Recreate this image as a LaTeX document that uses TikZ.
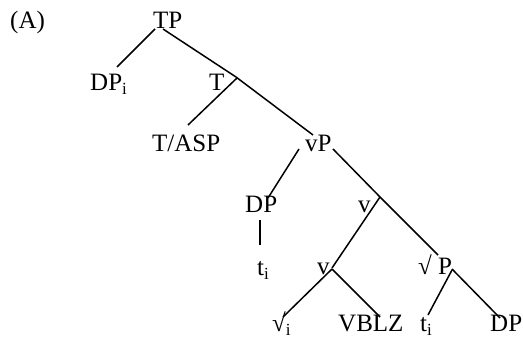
\documentclass[tikz,border=0pt]{standalone}
\usepackage{fontspec}
\setmainfont{Liberation Serif}
\newcommand\mysubi{\raisebox{-3.5pt}{\fontsize{17}{17}\selectfont i}}
\begin{document}
\begin{tikzpicture}[x=1pt,y=-1pt,
  lab/.style={font=\fontsize{25}{30}\selectfont, inner sep=0pt, anchor=base west},
  br/.style={line width=1.5pt}]
\useasboundingbox (0,0) rectangle (523,339);
\node[lab] (A) at (10,29) {(A)};
\node[lab] (TP) at (153,29) {TP};
\node[lab] (DPi) at (90,91) {DP\mysubi};
\node[lab] (T) at (209,91) {T};
\node[lab] (TASP) at (152,152) {T/ASP};
\node[lab] (vP) at (305,152) {vP};
\node[lab] (DP) at (245,213) {DP};
\node[lab] (ti1) at (257,276) {t\mysubi};
\node[lab] (vbar) at (358,213) {v};
\node[lab] (v) at (317,275) {v};
\node[lab] (rootP) at (418,275) {√ P};
\node[lab] (root) at (272,332) {√\mysubi};
\node[lab] (VBLZ) at (338,332) {VBLZ};
\node[lab] (ti2) at (420,332) {t\mysubi};
\node[lab] (DP2) at (490,332) {DP};

\draw[br] ([shift={(2,0)}]TP.base west) -- ([shift={(27,-24)}]DPi.base west);
\draw[br] ([shift={(10,0)}]TP.base west) -- ([shift={(27,-14)}]T.base west);
\draw[br] ([shift={(27,-14)}]T.base west) -- ([shift={(8,-17)}]vP.base west);
\draw[br] ([shift={(28,-13)}]T.base west) -- ([shift={(36,-27)}]TASP.base west);
\draw[br] ([shift={(-6,-3)}]vP.base west) -- ([shift={(23,-15)}]DP.base west);
\draw[br] ([shift={(28,-3)}]vP.base west) -- ([shift={(22,-16)}]vbar.base west);
\draw[br] ([shift={(22,-16)}]vbar.base west) -- ([shift={(20,-20)}]rootP.base west);
\draw[br] ([shift={(22,-16)}]vbar.base west) -- ([shift={(15,-7)}]v.base west);
\draw[br] ([shift={(15,7)}]DP.base west) -- ([shift={(3,-31)}]ti1.base west);
\draw[br] ([shift={(15,-6)}]v.base west) -- ([shift={(11,-15)}]root.base west);
\draw[br] ([shift={(15,-6)}]v.base west) -- ([shift={(42,-15)}]VBLZ.base west);
\draw[br] ([shift={(34,-5)}]rootP.base west) -- ([shift={(8,-17)}]ti2.base west);
\draw[br] ([shift={(34,-6)}]rootP.base west) -- ([shift={(10,-14)}]DP2.base west);
\end{tikzpicture}
\end{document}
